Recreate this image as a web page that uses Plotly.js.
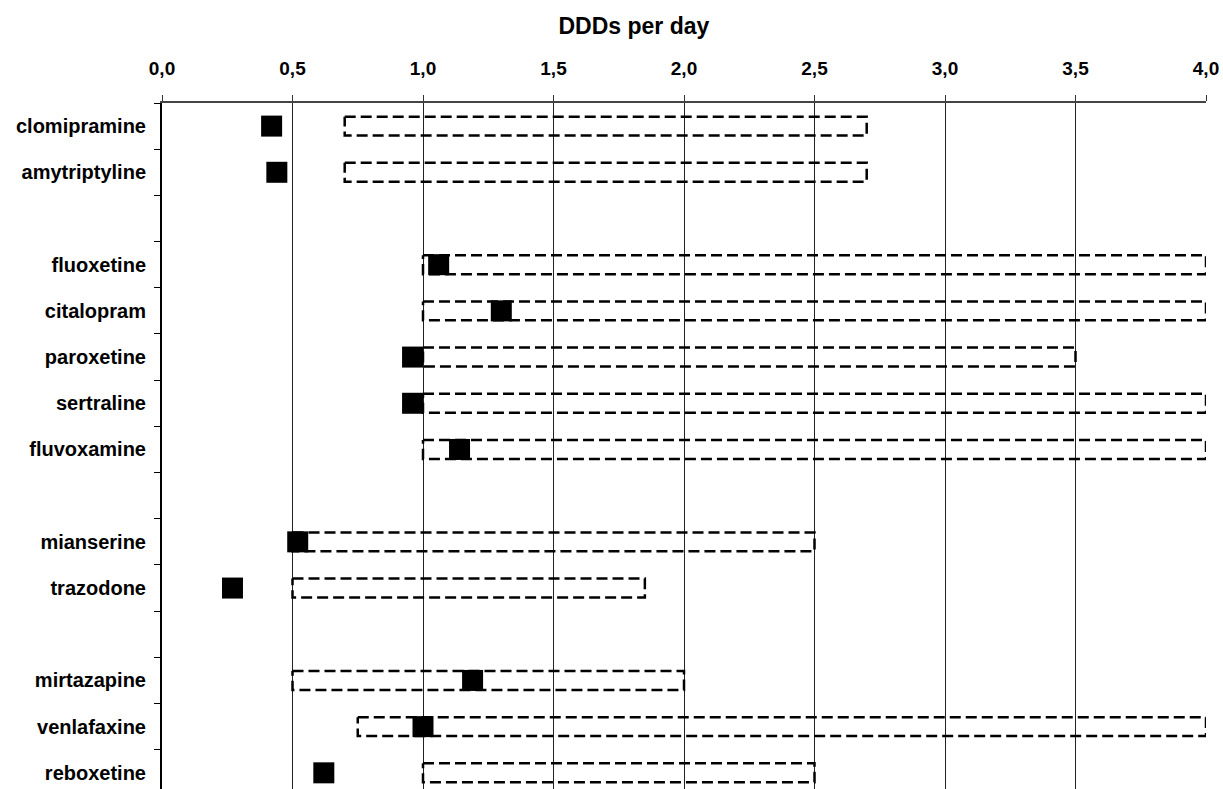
<!DOCTYPE html>
<html>
<head>
<meta charset="utf-8">
<script src="https://cdn.plot.ly/plotly-3.0.1.min.js"></script>
<style>
  html, body { margin: 0; padding: 0; background: #fff; overflow: hidden; }
  #chart { width: 1223px; height: 789px; }
</style>
</head>
<body>
<div id="chart"></div>
<script>
// Rows of the chart, top to bottom ('' = empty spacer row)
const rowLabels = ['clomipramine', 'amytriptyline', '', 'fluoxetine', 'citalopram', 'paroxetine',
  'sertraline', 'fluvoxamine', '', 'mianserine', 'trazodone', '', 'mirtazapine', 'venlafaxine', 'reboxetine'];
// Observed DDDs per day (black squares)
const observedDDD = [0.42, 0.44, null, 1.06, 1.30, 0.96, 0.96, 1.14, null, 0.52, 0.27, null, 1.19, 1.00, 0.62];
// Recommended range (dashed boxes)
const rangeLow  = [0.70, 0.70, null, 1.00, 1.00, 1.00, 1.00, 1.00, null, 0.50, 0.50, null, 0.50, 0.75, 1.00];
const rangeHigh = [2.70, 2.70, null, 4.00, 4.00, 3.50, 4.00, 4.00, null, 2.50, 1.85, null, 2.00, 4.00, 2.50];
const xTicks = [0, 0.5, 1, 1.5, 2, 2.5, 3, 3.5, 4];

const FONT = 'Liberation Sans, Arial, sans-serif';
const half = 0.205; // half height of range box (in row units)

const boxX = [], boxY = [];
const ptX = [], ptY = [];
const labVals = [], labText = [];
rowLabels.forEach((lab, i) => {
  if (lab) { labVals.push(i); labText.push('<b>' + lab + '</b>'); }
  if (rangeLow[i] != null) {
    boxX.push(rangeLow[i], rangeHigh[i], rangeHigh[i], rangeLow[i], rangeLow[i], null);
    boxY.push(i - half, i - half, i + half, i + half, i - half, null);
  }
  if (observedDDD[i] != null) { ptX.push(observedDDD[i]); ptY.push(i); }
});

const traces = [
  {
    type: 'scatter', mode: 'lines', x: boxX, y: boxY,
    line: { color: '#000', width: 2.5, dash: '11px,5px' },
    hoverinfo: 'skip', showlegend: false, cliponaxis: false
  },
  {
    type: 'scatter', mode: 'markers', x: ptX, y: ptY,
    marker: { symbol: 'square', size: 21, color: '#000', line: { width: 0 } },
    showlegend: false
  }
];

const layout = {
  width: 1223, height: 789,
  margin: { l: 162, r: 17, t: 103, b: 0, pad: 0 },
  paper_bgcolor: '#fff', plot_bgcolor: '#fff',
  separators: ',.',
  font: { family: FONT, color: '#000' },
  title: {
    text: '<b>DDDs per day</b>',
    font: { family: FONT, size: 23, color: '#000' },
    xref: 'paper', x: 0.452, xanchor: 'center',
    yref: 'container', y: 1 - 26 / 789, yanchor: 'middle'
  },
  xaxis: {
    side: 'top', range: [0, 4], tickvals: xTicks, tickformat: '.1f',
    ticks: 'outside', ticklen: 6, tickcolor: '#333', tickwidth: 1,
    showline: true, linecolor: '#444', linewidth: 2,
    showgrid: true, gridcolor: '#222', gridwidth: 1,
    zeroline: false, ticklabelstandoff: 12,
    tickfont: { family: FONT, size: 19, color: '#000', weight: 'bold' },
    fixedrange: true
  },
  yaxis: {
    range: [14.35, -0.5], tickvals: labVals, ticktext: labText,
    ticks: 'outside', ticklen: 6, tickcolor: 'rgba(0,0,0,0)',
    ticklabelstandoff: 4,
    minor: { tickmode: 'linear', tick0: 0.5, dtick: 1, ticks: 'outside', ticklen: 6, tickcolor: '#000', tickwidth: 1, showgrid: false },
    showline: true, linecolor: '#000', linewidth: 2,
    showgrid: false, zeroline: false,
    tickfont: { family: FONT, size: 20, color: '#000' },
    fixedrange: true
  }
};

Plotly.newPlot('chart', traces, layout, { displayModeBar: false, staticPlot: true });
</script>
</body>
</html>
